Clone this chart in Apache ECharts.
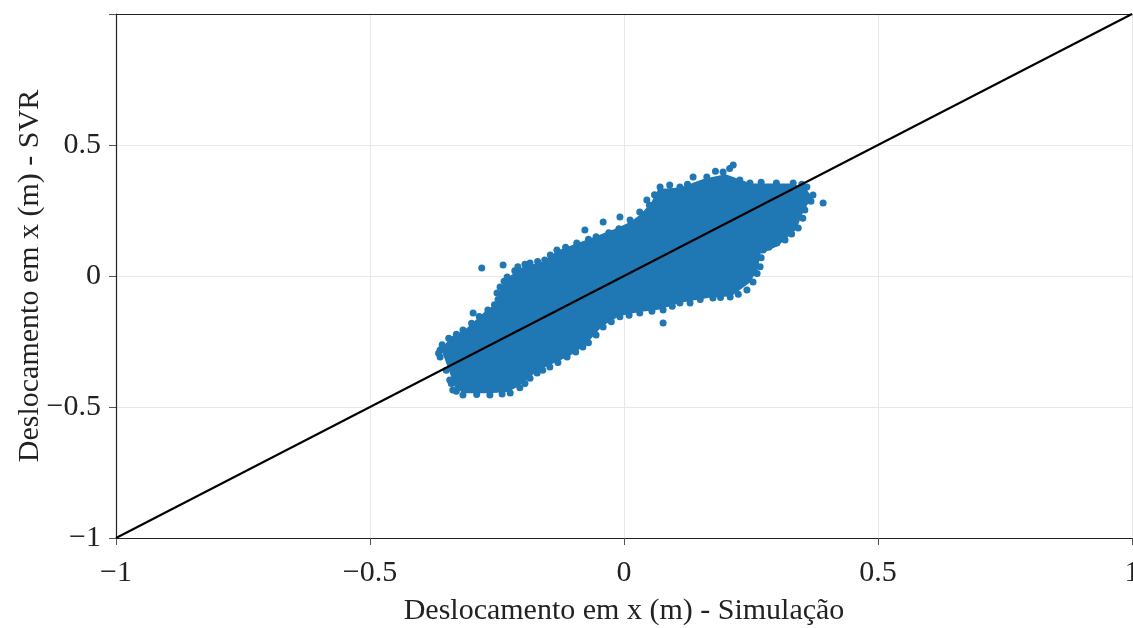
<!DOCTYPE html>
<html>
<head>
<meta charset="utf-8">
<script src="https://cdn.jsdelivr.net/npm/echarts@6/dist/echarts.min.js"></script>
<style>
  html, body { margin: 0; padding: 0; background: #fff; }
  #chart { width: 1133px; height: 628px; }
</style>
</head>
<body>
<div id="chart"></div>
<script>
// axis ticks
const xTicks = [-1, -0.5, 0, 0.5, 1]
const yTicks = [-1, -0.5, 0, 0.5, 1]

// identity reference line (y = x)
const refLine = [[-1, -1], [1, 1]]

// outline of the dense core of the point cloud
const cloudCore = [
  [-0.355, -0.285], [-0.34, -0.24], [-0.31, -0.21], [-0.27, -0.14], [-0.245, -0.105],
  [-0.24, -0.05], [-0.225, -0.01], [-0.2, 0.025], [-0.155, 0.05], [-0.13, 0.09],
  [-0.095, 0.115], [-0.06, 0.14], [-0.02, 0.17], [0.015, 0.2], [0.035, 0.23],
  [0.055, 0.27], [0.07, 0.325], [0.11, 0.33], [0.16, 0.365], [0.2, 0.38],
  [0.25, 0.345], [0.33, 0.345], [0.355, 0.33], [0.365, 0.3], [0.35, 0.25],
  [0.335, 0.18], [0.3, 0.12], [0.265, 0.09], [0.26, 0.03], [0.245, -0.02],
  [0.21, -0.07], [0.17, -0.075], [0.11, -0.095], [0.07, -0.12], [0.03, -0.13],
  [-0.01, -0.145], [-0.045, -0.185], [-0.08, -0.26], [-0.11, -0.3], [-0.15, -0.335],
  [-0.175, -0.36], [-0.21, -0.415], [-0.23, -0.435], [-0.265, -0.44], [-0.315, -0.44],
  [-0.33, -0.42], [-0.335, -0.39], [-0.35, -0.31]
]

// individual points along the cloud edge and outliers
const edgePoints = [
  [-0.28, 0.031], [-0.297, -0.141], [-0.238, 0.042], [0.077, -0.179], [0.215, 0.424],
  [0.392, 0.279], [0.045, 0.29], [-0.041, 0.206], [-0.077, 0.176], [-0.008, 0.225],
  [0.136, 0.378], [0.18, 0.40], [0.208, 0.41],
  [-0.362, -0.282], [-0.358, -0.262], [-0.345, -0.238], [-0.33, -0.222], [-0.317, -0.206],
  [-0.3, -0.18], [-0.285, -0.155], [-0.268, -0.13], [-0.255, -0.11], [-0.248, -0.09],
  [-0.25, -0.065], [-0.244, -0.042], [-0.236, -0.02], [-0.23, -0.004], [-0.215, 0.02],
  [-0.209, 0.035], [-0.195, 0.045], [-0.185, 0.05], [-0.17, 0.055], [-0.156, 0.061],
  [-0.145, 0.08], [-0.132, 0.099], [-0.115, 0.11], [-0.093, 0.126], [-0.07, 0.14],
  [-0.055, 0.15], [-0.03, 0.165], [-0.01, 0.18], [0.012, 0.214], [0.031, 0.244],
  [0.05, 0.27], [0.06, 0.31], [0.071, 0.34], [0.09, 0.347], [0.11, 0.34],
  [0.125, 0.35], [0.163, 0.378], [0.195, 0.397], [0.228, 0.366], [0.248, 0.355],
  [0.27, 0.358], [0.3, 0.355], [0.333, 0.355], [0.35, 0.35], [0.36, 0.34],
  [0.372, 0.309], [0.368, 0.285], [0.356, 0.252], [0.352, 0.22], [0.343, 0.183],
  [0.33, 0.16], [0.317, 0.137], [0.301, 0.126], [0.285, 0.11], [0.274, 0.099],
  [0.27, 0.07], [0.268, 0.035], [0.262, 0.01], [0.254, -0.023], [0.242, -0.053],
  [0.225, -0.07], [0.209, -0.08], [0.19, -0.082], [0.175, -0.084], [0.15, -0.09],
  [0.13, -0.103], [0.11, -0.103], [0.095, -0.115], [0.077, -0.13], [0.055, -0.135],
  [0.031, -0.141], [0.01, -0.15], [-0.008, -0.156], [-0.025, -0.175], [-0.041, -0.195],
  [-0.055, -0.225], [-0.07, -0.255], [-0.081, -0.271], [-0.095, -0.29], [-0.112, -0.309],
  [-0.13, -0.33], [-0.146, -0.347], [-0.16, -0.36], [-0.171, -0.37], [-0.185, -0.39],
  [-0.195, -0.41], [-0.205, -0.427], [-0.224, -0.447], [-0.24, -0.45], [-0.264, -0.454],
  [-0.29, -0.452], [-0.317, -0.454], [-0.33, -0.44], [-0.337, -0.435], [-0.34, -0.41],
  [-0.343, -0.397], [-0.35, -0.36], [-0.362, -0.309], [-0.365, -0.295]
]

const xName = 'Deslocamento em x (m) - Simulação'
const yName = 'Deslocamento em x (m) - SVR'

const FONT = '"Liberation Serif", "DejaVu Serif", serif'
const BLUE = '#1f77b4'

const fmt = (v) => String(v).replace('-', '\u2212')

const chart = echarts.init(document.getElementById('chart'), null, { renderer: 'canvas' })

chart.setOption({
  animation: false,
  backgroundColor: '#fff',
  grid: {
    left: 116, right: 1, top: 14, bottom: 90,
    containLabel: false,
    outerBoundsMode: 'none'
  },
  xAxis: [
    {
      type: 'value',
      min: xTicks[0],
      max: xTicks[xTicks.length - 1],
      interval: 0.5,
      name: xName,
      nameLocation: 'middle',
      nameGap: 58,
      nameMoveOverlap: false,
      nameTextStyle: { fontFamily: FONT, fontSize: 30, color: '#222' },
      axisLine: { show: true, onZero: false, lineStyle: { color: '#222', width: 1.2 } },
      axisTick: { show: true, length: 7, lineStyle: { color: '#555' } },
      axisLabel: {
        fontFamily: FONT, fontSize: 30, color: '#222', margin: 20,
        formatter: fmt, showMaxLabel: true, hideOverlap: false
      },
      splitLine: { show: true, lineStyle: { color: '#e8e8e8', width: 1 } }
    },
    {
      type: 'value',
      position: 'top',
      min: -1,
      max: 1,
      axisLine: { show: true, onZero: false, lineStyle: { color: '#222', width: 1.2 } },
      axisTick: { show: false },
      axisLabel: { show: false },
      splitLine: { show: false }
    }
  ],
  yAxis: {
    type: 'value',
    min: yTicks[0],
    max: yTicks[yTicks.length - 1],
    interval: 0.5,
    name: yName,
    nameLocation: 'middle',
    nameGap: 71,
    nameMoveOverlap: false,
    nameTextStyle: { fontFamily: FONT, fontSize: 30, color: '#222' },
    axisLine: { show: true, onZero: false, lineStyle: { color: '#222', width: 1.2 } },
    axisTick: { show: true, length: 7, lineStyle: { color: '#555' } },
    axisLabel: {
      fontFamily: FONT, fontSize: 30, color: '#222', margin: 15,
      formatter: (v) => (v === 1 ? '' : fmt(v))
    },
    splitLine: { show: true, lineStyle: { color: '#e8e8e8', width: 1 } }
  },
  series: [
    {
      type: 'custom',
      silent: true,
      z: 2,
      renderItem: (params, api) => {
        const pts = cloudCore.map((p) => api.coord(p))
        return {
          type: 'polygon',
          shape: { points: pts },
          style: { fill: BLUE, stroke: BLUE, lineWidth: 4 }
        }
      },
      data: [0]
    },
    {
      type: 'scatter',
      z: 3,
      symbolSize: 7,
      itemStyle: { color: BLUE, opacity: 1 },
      data: edgePoints
    },
    {
      type: 'line',
      z: 4,
      data: refLine,
      symbol: 'none',
      lineStyle: { color: '#000', width: 2 }
    }
  ]
})
</script>
</body>
</html>
